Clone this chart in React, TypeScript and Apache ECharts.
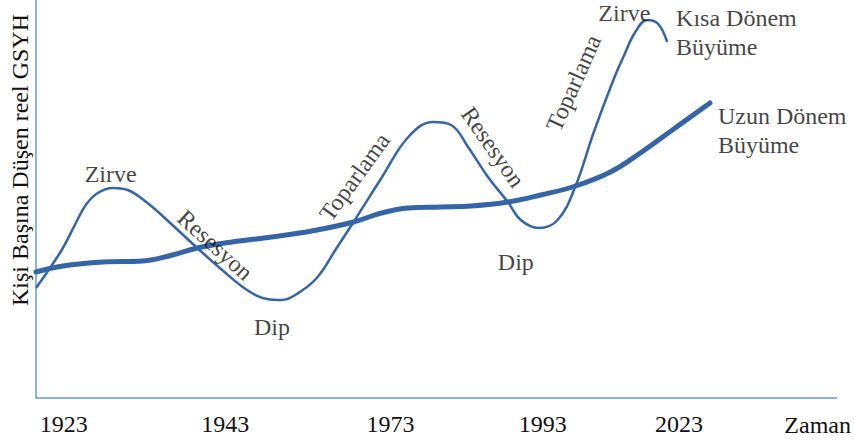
import React, { useEffect, useRef } from "react";
import * as echarts from "echarts";

// Short-term cycle (thin line): [time position, real GDP per capita level]
const cycleX = [0, 14, 27, 39, 50, 62, 77, 92, 112, 137, 162, 187, 212, 232, 247, 262, 282, 302, 319, 347, 374, 399, 417, 434, 454, 474, 487, 505, 524, 542, 560, 580, 590, 602, 614, 625, 634];
const cycleY = [110, 130, 150, 173, 193, 205, 210, 208, 195, 173, 150, 128, 108, 99, 98, 104, 120, 150, 176, 220, 261, 276, 273, 251, 221, 196, 178, 170, 178, 212, 265, 318, 341, 366, 378, 374, 356];

// Long-term growth trend (thick line)
const trendX = [0, 27, 67, 107, 137, 162, 197, 237, 277, 319, 347, 374, 407, 437, 474, 507, 542, 577, 607, 642, 677];
const trendY = [126, 132, 136, 137, 143, 150, 156, 161, 167, 176, 185, 190, 191, 192, 196, 203, 212, 226, 245, 270, 295];

// Time axis tick labels and their positions on the time scale
const tickLabels = ["1923", "1943", "1973", "1993", "2023"];
const tickPositions = [28, 190, 356, 509, 646];

// Phase annotations
const noteTexts = ["Zirve", "Resesyon", "Dip", "Toparlama", "Resesyon", "Dip", "Toparlama", "Zirve"];
const noteX = [75, 180, 237, 320, 459, 482, 540, 591];
const noteY = [224, 153, 71, 221, 251, 136, 315, 385];
const noteAngles = [0, -42, 0, 54, -55, 0, 66, 0];

// Series end labels
const endTexts = ["Kısa Dönem\nBüyüme", "Uzun Dönem\nBüyüme"];
const endX = [643, 685];
const endY = [366, 268];

const FONT = "'Liberation Serif', 'Times New Roman', serif";
const LINE_COLOR = "#3565a6";
const AXIS_COLOR = "#6b98d8";

export default function App() {
  const ref = useRef<HTMLDivElement>(null);

  useEffect(() => {
    document.body.style.margin = "0";
    if (!ref.current) return;
    const chart = echarts.init(ref.current, null, { renderer: "svg" });

    const cycleData = cycleX.map((x, i) => [x, cycleY[i]]);
    const trendData = trendX.map((x, i) => [x, trendY[i]]);
    const noteData = noteTexts.map((t, i) => ({
      value: [noteX[i], noteY[i]],
      name: t,
      label: { rotate: noteAngles[i] },
    }));
    const endData = endTexts.map((t, i) => ({ value: [endX[i], endY[i]], name: t }));

    chart.setOption({
      animation: false,
      grid: { left: 33, right: 17, top: 0, bottom: 48, containLabel: false },
      xAxis: {
        type: "value",
        min: 0,
        max: 804,
        name: "Zaman",
        nameLocation: "end",
        nameGap: -52,
        nameTextStyle: {
          fontFamily: FONT,
          fontSize: 24,
          color: "#111",
          verticalAlign: "top",
          padding: [15, 0, 0, 0],
        },
        axisLine: { show: true, lineStyle: { color: AXIS_COLOR, width: 1.5 } },
        axisTick: { show: false },
        splitLine: { show: false },
        axisLabel: {
          show: true,
          customValues: tickPositions,
          formatter: (v: number) => {
            const idx = tickPositions.indexOf(v);
            return idx >= 0 ? tickLabels[idx] : "";
          },
          fontFamily: FONT,
          fontSize: 24,
          color: "#111",
          margin: 14,
        },
      },
      yAxis: {
        type: "value",
        min: 0,
        max: 398,
        name: "Kişi Başına Düşen reel GSYH",
        nameLocation: "middle",
        nameRotate: 90,
        nameGap: 4,
        nameTextStyle: {
          fontFamily: FONT,
          fontSize: 24,
          color: "#111",
          padding: [0, 0, 0, 78],
        },
        axisLine: { show: true, lineStyle: { color: AXIS_COLOR, width: 1.5 } },
        axisTick: { show: false },
        axisLabel: { show: false },
        splitLine: { show: false },
      },
      series: [
        {
          type: "line",
          name: "Uzun Dönem Büyüme",
          data: trendData,
          smooth: 0.4,
          showSymbol: false,
          symbol: "none",
          lineStyle: { color: LINE_COLOR, width: 5, cap: "round" },
          z: 3,
        },
        {
          type: "line",
          name: "Kısa Dönem Büyüme",
          data: cycleData,
          smooth: 0.4,
          showSymbol: false,
          symbol: "none",
          lineStyle: { color: LINE_COLOR, width: 2.5 },
          z: 2,
        },
        {
          type: "scatter",
          name: "notes",
          data: noteData,
          symbolSize: 0,
          silent: true,
          label: {
            show: true,
            position: "inside",
            formatter: (p: any) => p.name,
            fontFamily: FONT,
            fontSize: 24,
            color: "#111",
          },
          z: 4,
        },
        {
          type: "scatter",
          name: "ends",
          data: endData,
          symbolSize: 0,
          silent: true,
          label: {
            show: true,
            position: "right",
            distance: 0,
            align: "left",
            formatter: (p: any) => p.name,
            fontFamily: FONT,
            fontSize: 24,
            lineHeight: 29,
            color: "#111",
          },
          z: 4,
        },
      ],
    });

    return () => chart.dispose();
  }, []);

  return <div ref={ref} style={{ width: 854, height: 446 }} />;
}
